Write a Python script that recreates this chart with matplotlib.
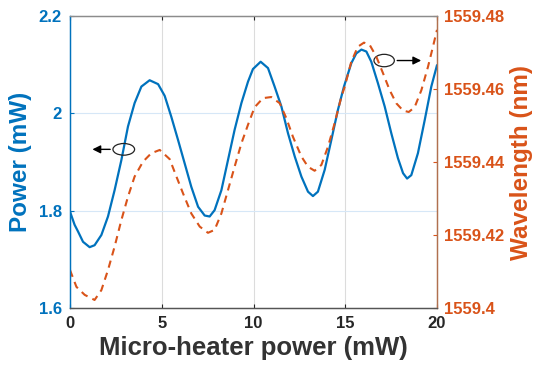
import matplotlib
matplotlib.use("Agg")
import matplotlib.pyplot as plt
from matplotlib.patches import Ellipse
from matplotlib.ticker import FuncFormatter

plt.rcParams['font.family'] = ['Liberation Sans', 'DejaVu Sans']
plt.rcParams['font.weight'] = 'bold'

# Data
heater_power_blue = [0.00, 0.25, 0.44, 0.71, 1.07, 1.34, 1.71, 2.07, 2.43, 2.80, 3.16, 3.52,
                     3.89, 4.34, 4.80, 5.16, 5.52, 5.89, 6.25, 6.61, 6.98, 7.34, 7.61, 7.88,
                     8.25, 8.61, 8.97, 9.34, 9.70, 9.97, 10.39, 10.79, 11.15, 11.52, 11.88,
                     12.25, 12.61, 12.97, 13.24, 13.51, 13.88, 14.24, 14.60, 14.93, 15.33,
                     15.60, 15.88, 16.15, 16.42, 16.78, 17.15, 17.51, 17.87, 18.15, 18.37,
                     18.60, 18.96, 19.33, 19.69, 20.00]
optical_power = [1.798, 1.771, 1.757, 1.736, 1.725, 1.729, 1.750, 1.788, 1.842, 1.904, 1.973, 2.021,
                 2.055, 2.068, 2.060, 2.036, 1.993, 1.945, 1.897, 1.849, 1.808, 1.790, 1.788, 1.801,
                 1.842, 1.904, 1.966, 2.021, 2.065, 2.091, 2.106, 2.093, 2.055, 2.014, 1.959,
                 1.911, 1.870, 1.839, 1.830, 1.839, 1.884, 1.945, 2.007, 2.055, 2.103,
                 2.123, 2.131, 2.127, 2.106, 2.062, 2.014, 1.959, 1.908, 1.877, 1.866,
                 1.873, 1.918, 1.986, 2.055, 2.099]

heater_power_orange = [0.00, 0.35, 0.80, 1.34, 1.71, 2.07, 2.43, 2.80, 3.16, 3.52, 3.98, 4.43,
                       4.89, 5.43, 5.80, 6.16, 6.61, 7.07, 7.52, 7.88, 8.25, 8.61, 8.97, 9.34,
                       9.70, 10.06, 10.52, 10.97, 11.43, 11.79, 12.15, 12.61, 12.97, 13.33,
                       13.70, 14.06, 14.42, 14.79, 14.97, 15.33, 15.69, 16.02, 16.33, 16.69,
                       17.06, 17.42, 17.78, 18.15, 18.46, 18.78, 19.15, 19.51, 19.78, 20.00]
wavelength = [1559.4104, 1559.4058, 1559.4036, 1559.4022, 1559.4049, 1559.4104, 1559.4168,
              1559.4241, 1559.4305, 1559.4360, 1559.4401, 1559.4424, 1559.4433, 1559.4408,
              1559.4360, 1559.4314, 1559.4259, 1559.4223, 1559.4206, 1559.4214, 1559.4259,
              1559.4323, 1559.4387, 1559.4451, 1559.4502, 1559.4550, 1559.4575, 1559.4578,
              1559.4561, 1559.4520, 1559.4469, 1559.4415, 1559.4387, 1559.4376, 1559.4392,
              1559.4442, 1559.4506, 1559.4579, 1559.4606, 1559.4675, 1559.4716, 1559.4727,
              1559.4721, 1559.4689, 1559.4643, 1559.4597, 1559.4561, 1559.4541, 1559.4537,
              1559.4550, 1559.4597, 1559.4661, 1559.4716, 1559.4762]

x_ticks = [0, 5, 10, 15, 20]
power_ticks = [1.6, 1.8, 2.0, 2.2]
wl_ticks = [1559.40, 1559.42, 1559.44, 1559.46, 1559.48]

BLUE = '#0072BD'
ORANGE = '#D95319'

fig = plt.figure(figsize=(5.43, 3.71), dpi=100)
ax = fig.add_axes([70/543, 63/371, 367/543, 292/371])
ax2 = ax.twinx()

ax.plot(heater_power_blue, optical_power, color=BLUE, lw=1.6, zorder=3,
        solid_joinstyle='round', solid_capstyle='round')
ax2.plot(heater_power_orange, wavelength, color=ORANGE, lw=1.5, linestyle=(0, (3.5, 2.6)),
         dash_joinstyle='round')

ax.set_xlim(0, 20)
ax.set_ylim(1.6, 2.2)
ax2.set_ylim(1559.40, 1559.48)
ax.set_xticks(x_ticks)
ax.set_yticks(power_ticks)
ax2.set_yticks(wl_ticks)
ax.yaxis.set_major_formatter(FuncFormatter(lambda v, p: f"{v:g}"))
ax2.yaxis.set_major_formatter(FuncFormatter(lambda v, p: f"{v:.2f}".rstrip('0')))

# grid
for xv in x_ticks[1:-1]:
    ax.axvline(xv, color='#DCDCDC', lw=0.8, zorder=0)
for yv in power_ticks[1:-1]:
    ax.axhline(yv, color='#D6E7F7', lw=0.8, zorder=0)

ax.tick_params(axis='x', direction='in', length=3, labelsize=12, colors='#262626',
               top=True, pad=6)
ax.tick_params(axis='y', direction='in', length=3, labelsize=12, colors=BLUE, pad=6)
ax2.tick_params(axis='y', direction='in', length=3, labelsize=12, colors=ORANGE, pad=5)
for lab in ax.get_xticklabels() + ax.get_yticklabels() + ax2.get_yticklabels():
    lab.set_fontweight('bold')

for a in (ax, ax2):
    a.spines['left'].set_color(BLUE)
    a.spines['right'].set_color('#B0704F')
    a.spines['top'].set_color('#8C8C8C')
    a.spines['bottom'].set_color('#555555')
    for s in a.spines.values():
        s.set_linewidth(0.9)

ax.set_xlabel('Micro-heater power (mW)', fontsize=18.5, fontweight='bold', color='#333333',
              labelpad=3)
ax.set_ylabel('Power (mW)', fontsize=17.5, fontweight='bold', color=BLUE, labelpad=5)
ax2.set_ylabel('Wavelength (nm)', fontsize=17.5, fontweight='bold', color=ORANGE, labelpad=4)

# annotation ellipses and arrows
ax.add_patch(Ellipse((2.93, 1.926), 1.18, 0.024, fill=False, ec='#222222', lw=0.9, zorder=5))
ax.annotate('', xy=(1.07, 1.926), xytext=(2.34, 1.926),
            arrowprops=dict(arrowstyle='-|>', color='black', lw=1.0, mutation_scale=12), zorder=5)
ax.add_patch(Ellipse((17.12, 2.1085), 1.11, 0.0255, fill=False, ec='#222222', lw=0.9, zorder=5))
ax.annotate('', xy=(19.29, 2.1085), xytext=(17.68, 2.1085),
            arrowprops=dict(arrowstyle='-|>', color='black', lw=1.0, mutation_scale=12), zorder=5)

fig.savefig('out.png', dpi=100)
